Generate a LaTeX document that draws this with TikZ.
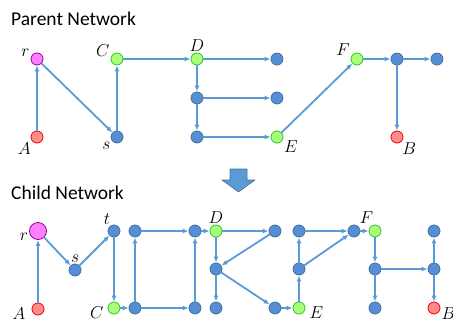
\documentclass[tikz,border=0pt]{standalone}
\usepackage{fontspec}
\setmainfont{Carlito}
\usetikzlibrary{arrows.meta}
\definecolor{edgeblue}{RGB}{91,155,213}
\definecolor{nodeblue}{RGB}{85,142,213}
\definecolor{rimblue}{RGB}{65,113,156}
\definecolor{nodegreen}{RGB}{170,255,120}
\definecolor{rimgreen}{RGB}{40,200,40}
\definecolor{nodered}{RGB}{255,140,140}
\definecolor{rimred}{RGB}{240,0,0}
\definecolor{nodepink}{RGB}{255,128,255}
\definecolor{rimpink}{RGB}{150,0,150}
\tikzstyle{every path}=[line cap=round,line join=round]
\tikzstyle{vx}=[circle,inner sep=0pt,minimum size=12pt,line width=0.8pt,fill=nodeblue,draw=rimblue]
\tikzstyle{gvx}=[vx,fill=nodegreen,draw=rimgreen]
\tikzstyle{rvx}=[vx,fill=nodered,draw=rimred]
\tikzstyle{pvx}=[vx,fill=nodepink,draw=rimpink]
\tikzstyle{lab}=[font=\fontsize{18}{20}\selectfont,inner sep=1pt]
\tikzstyle{title}=[anchor=west,font=\fontsize{19.5}{22}\selectfont,inner sep=0pt]
\tikzstyle{edge}=[line width=1.8pt,draw=edgeblue,-{Latex[length=6pt,width=5pt]}]

\begin{document}
\begin{tikzpicture}[x=1pt,y=-1pt]
  \useasboundingbox (0,0) rectangle (453,322);
  % parent network
  \node[title] (ptitle) at (11,19) {Parent Network};
  \node[pvx,label={[lab]170:$r$}] (pr) at (37,59) {};
  \node[rvx,label={[lab]220:$A$}] (pA) at (37,137) {};
  \node[vx,label={[lab]212:$s$}] (ps) at (117,137) {};
  \node[gvx,label={[lab]170:$C$}] (pC) at (117,59) {};
  \node[gvx,label={[lab]90:$D$}] (pD) at (197,59) {};
  \node[vx] (pd1) at (197,98) {};
  \node[vx] (pd2) at (197,137) {};
  \node[vx] (pd3) at (277,59) {};
  \node[vx] (pd4) at (277,98) {};
  \node[gvx,label={[lab]-25:$E$}] (pE) at (277,137) {};
  \node[gvx,label={[lab]160:$F$}] (pF) at (357,59) {};
  \node[vx] (pf1) at (397,59) {};
  \node[vx] (pf2) at (437,59) {};
  \node[rvx,label={[lab]-50:$B$}] (pB) at (397,137) {};
  \foreach \a/\b in {pA/pr,pr/ps,ps/pC,pC/pD,pD/pd1,pd1/pd2,pd1/pd4,pd2/pE,pD/pd3,pE/pF,pF/pf1,pf1/pf2,pf1/pB}
    \draw[edge] (\a) -- (\b);
  % big arrow
  \draw[fill=edgeblue,draw=rimblue,line width=0.6pt]
    (230,169)--(247,169)--(247,180)--(255,180)--(238.5,192)--(222,180)--(230,180)--cycle;
  % child network
  \node[title] (ctitle) at (11,193) {Child Network};
  \node[pvx,minimum size=17pt,label={[lab]188:$r$}] (cr) at (38,231) {};
  \node[rvx,label={[lab,xshift=-5pt,yshift=-5pt]180:$A$}] (cA) at (38,309) {};
  \node[vx,label={[lab]90:$s$}] (cs) at (75,270) {};
  \node[vx,label={[lab]115:$t$}] (ct) at (114,231) {};
  \node[gvx,label={[lab,xshift=-3pt,yshift=-5pt]180:$C$}] (cC) at (114,308) {};
  \node[vx] (c1) at (135,231) {};
  \node[vx] (c2) at (135,308) {};
  \node[vx] (c3) at (195,231) {};
  \node[vx] (c4) at (195,308) {};
  \node[gvx,label={[lab]90:$D$}] (cD) at (216,231) {};
  \node[vx] (c5) at (216,269) {};
  \node[vx] (c6) at (216,308) {};
  \node[vx] (c7) at (275,231) {};
  \node[vx] (c8) at (275,308) {};
  \node[vx] (c9) at (299,231) {};
  \node[vx] (c10) at (299,269) {};
  \node[gvx,label={[lab,xshift=3pt,yshift=-5pt]0:$E$}] (cE) at (299,308) {};
  \node[vx] (c11) at (354,231) {};
  \node[gvx,label={[lab]95:$F$}] (cF) at (375,231) {};
  \node[vx] (c12) at (375,269) {};
  \node[vx] (c13) at (375,308) {};
  \node[vx] (c14) at (434,231) {};
  \node[vx] (c15) at (434,269) {};
  \node[rvx,label={[lab,yshift=-6pt]0:$B$}] (cB) at (434,308) {};
  \foreach \a/\b in {cA/cr,cr/cs,cs/ct,ct/cC,cC/c2,c2/c1,c1/c3,c2/c4,c4/c3,c3/cD,cD/c5,c5/c6,c7/c5,cD/c7,c5/c8,c8/cE,cE/c10,c10/c9,c9/c11,c10/c11,c11/cF,cF/c12,c12/c13,c12/c15,c15/c14,c15/cB}
    \draw[edge] (\a) -- (\b);
\end{tikzpicture}
\end{document}
